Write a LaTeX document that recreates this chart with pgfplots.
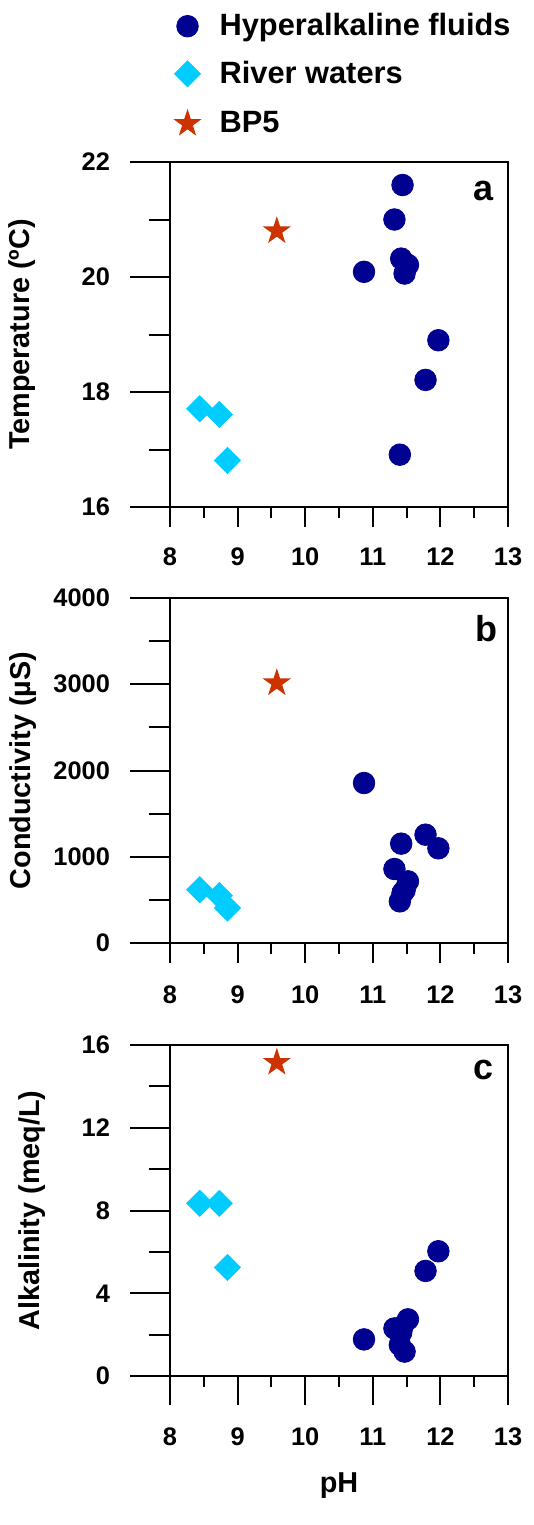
\documentclass[border=0pt]{standalone}
\usepackage{fontspec}
\setmainfont{Liberation Sans}
\usepackage{pgfplots}
\usepackage{pgfplotstable}
\pgfplotsset{compat=1.18}

\definecolor{fluidblue}{RGB}{0,0,145}
\definecolor{riverblue}{RGB}{0,204,255}
\definecolor{bpred}{RGB}{204,51,0}

% filled five-pointed star
\pgfdeclareplotmark{fstar}{%
  \pgfpathmoveto{\pgfqpointpolar{90}{\pgfplotmarksize}}%
  \pgfpathlineto{\pgfqpointpolar{126}{0.382\pgfplotmarksize}}%
  \pgfpathlineto{\pgfqpointpolar{162}{\pgfplotmarksize}}%
  \pgfpathlineto{\pgfqpointpolar{198}{0.382\pgfplotmarksize}}%
  \pgfpathlineto{\pgfqpointpolar{234}{\pgfplotmarksize}}%
  \pgfpathlineto{\pgfqpointpolar{270}{0.382\pgfplotmarksize}}%
  \pgfpathlineto{\pgfqpointpolar{306}{\pgfplotmarksize}}%
  \pgfpathlineto{\pgfqpointpolar{342}{0.382\pgfplotmarksize}}%
  \pgfpathlineto{\pgfqpointpolar{18}{\pgfplotmarksize}}%
  \pgfpathlineto{\pgfqpointpolar{54}{0.382\pgfplotmarksize}}%
  \pgfpathclose\pgfusepathqfill}

% pH, temperature (C), conductivity (uS), alkalinity (meq/L)
\pgfplotstableread{
ph    T     cond  alk
10.87 20.09 1855  1.77
11.32 21.00  858  2.30
11.40 16.91  483  1.50
11.42 20.32 1152  2.10
11.44 21.60  580  2.40
11.47 20.06  610  1.18
11.52 20.21  715  2.74
11.78 18.21 1256  5.08
11.97 18.90 1098  6.03
}\fluids
\pgfplotstableread{
ph    T     cond  alk
8.44  17.71  618  8.35
8.73  17.61  549  8.35
8.85  16.81  406  5.25
}\rivers
\pgfplotstableread{
ph    T     cond  alk
9.58  20.80 3014 15.15
}\bpfive

\newcommand\tickfont{\fontsize{12.7}{14}\selectfont\bfseries}
\newcommand\labelfont{\fontsize{14.4}{16}\selectfont\bfseries}

% ticks are drawn "inside" with negative length, so they point outwards;
% tick labels are set as centred nodes at a fixed distance from the axis line
\pgfplotsset{
  base/.style={
    scale only axis, width=169pt, xmin=8, xmax=13, clip=false,
    axis line style={line width=1pt},
    every tick/.style={black, line width=1pt},
    tick align=inside,
  },
  xpanel/.style={base,
    xtick={8,...,13}, minor x tick num=1, xtick pos=lower, ytick=\empty,
    xticklabels={},
    major tick length=-10pt, minor tick length=-5.5pt,
  },
  ypanel/.style={base,
    hide x axis, ytick pos=left, minor y tick num=1, yticklabels={},
    major tick length=-20pt, minor tick length=-10.5pt,
    ylabel style={font=\labelfont, anchor=center},
  },
  fluid/.style={only marks, mark=*, mark size=5.4pt, fluidblue},
  river/.style={only marks, mark=square*, mark size=4.6pt, mark options={rotate=45}, riverblue},
  bp/.style={only marks, mark=fstar, mark size=7.4pt, bpred},
}
\tikzset{
  letter/.style={font=\fontsize{18}{20}\selectfont\bfseries},
  xlab/.style={inner sep=0pt, font=\tickfont},
  ylab/.style={inner sep=0pt, text width=30pt, align=right, xshift=-45pt, font=\tickfont},
}

\begin{document}
\begin{tikzpicture}
\path[use as bounding box] (0,0) rectangle (267pt,-762.5pt);

% panel a
\begin{axis}[xpanel, at={(85pt,-253.5pt)}, anchor=south west, height=172.5pt,
  ymin=16, ymax=22,
  legend style={draw=none, fill=none, at={(axis description cs:0.009,1.4315)},
    anchor=north west, inner sep=0pt, row sep=11pt, column sep=9pt,
    nodes={inner sep=0pt},
    font=\fontsize{15.4}{17}\selectfont\bfseries},
  legend cell align=left,
  legend image code/.code={\draw[#1] plot coordinates {(0pt,0pt)};},
]
\addplot[fluid] table[x=ph, y=T] {\fluids};
\addlegendentry{Hyperalkaline fluids}
\addplot[river] table[x=ph, y=T] {\rivers};
\addlegendentry{River waters}
\addplot[bp] table[x=ph, y=T] {\bpfive};
\addlegendentry{BP5}
\pgfplotsinvokeforeach{8,9,10,11,12,13}{\node[xlab, anchor=center, yshift=-25pt] at (axis cs:#1,16) {#1};}
\node[letter, anchor=center] at (rel axis cs:0.929,0.917) {a};
\end{axis}
\begin{axis}[ypanel, at={(85pt,-253.5pt)}, anchor=south west, height=172.5pt,
  ymin=16, ymax=22, ytick={16,18,20,22},
  ylabel={Temperature (ºC)},
  ylabel style={at={(axis description cs:-0.439,0.5)}},
]
\pgfplotsinvokeforeach{16,18,20,22}{\node[ylab, anchor=center] at (axis cs:8,#1) {#1};}
\end{axis}

% panel b
\begin{axis}[xpanel, at={(85pt,-471.5pt)}, anchor=south west, height=172.5pt,
  ymin=0, ymax=4000,
]
\addplot[fluid] table[x=ph, y=cond] {\fluids};
\addplot[river] table[x=ph, y=cond] {\rivers};
\addplot[bp] table[x=ph, y=cond] {\bpfive};
\pgfplotsinvokeforeach{8,9,10,11,12,13}{\node[xlab, anchor=center, yshift=-26pt] at (axis cs:#1,0) {#1};}
\node[letter, anchor=center] at (rel axis cs:0.935,0.911) {b};
\end{axis}
\begin{axis}[ypanel, at={(85pt,-471.5pt)}, anchor=south west, height=172.5pt,
  ymin=0, ymax=4000, ytick={0,1000,2000,3000,4000},
  ylabel={Conductivity (µS)},
  ylabel style={at={(axis description cs:-0.436,0.5)}},
]
\pgfplotsinvokeforeach{0,1000,2000,3000,4000}{\node[ylab, anchor=center] at (axis cs:8,#1) {#1};}
\end{axis}

% panel c
\begin{axis}[xpanel, at={(85pt,-688pt)}, anchor=south west, height=165.5pt,
  ymin=0, ymax=16,
  major tick length=-14.5pt,
]
\addplot[fluid] table[x=ph, y=alk] {\fluids};
\addplot[river] table[x=ph, y=alk] {\rivers};
\addplot[bp] table[x=ph, y=alk] {\bpfive};
\pgfplotsinvokeforeach{8,9,10,11,12,13}{\node[xlab, anchor=center, yshift=-30.5pt] at (axis cs:#1,0) {#1};}
\node[anchor=center, yshift=-55pt, font=\labelfont] at (rel axis cs:0.5,0) {pH};
\node[letter, anchor=center] at (rel axis cs:0.929,0.925) {c};
\end{axis}
\begin{axis}[ypanel, at={(85pt,-688pt)}, anchor=south west, height=165.5pt,
  ymin=0, ymax=16, ytick={0,4,8,12,16},
  ylabel={Alkalinity (meq/L)},
  ylabel style={at={(axis description cs:-0.408,0.5)}},
]
\pgfplotsinvokeforeach{0,4,8,12,16}{\node[ylab, anchor=center] at (axis cs:8,#1) {#1};}
\end{axis}
\end{tikzpicture}
\end{document}
